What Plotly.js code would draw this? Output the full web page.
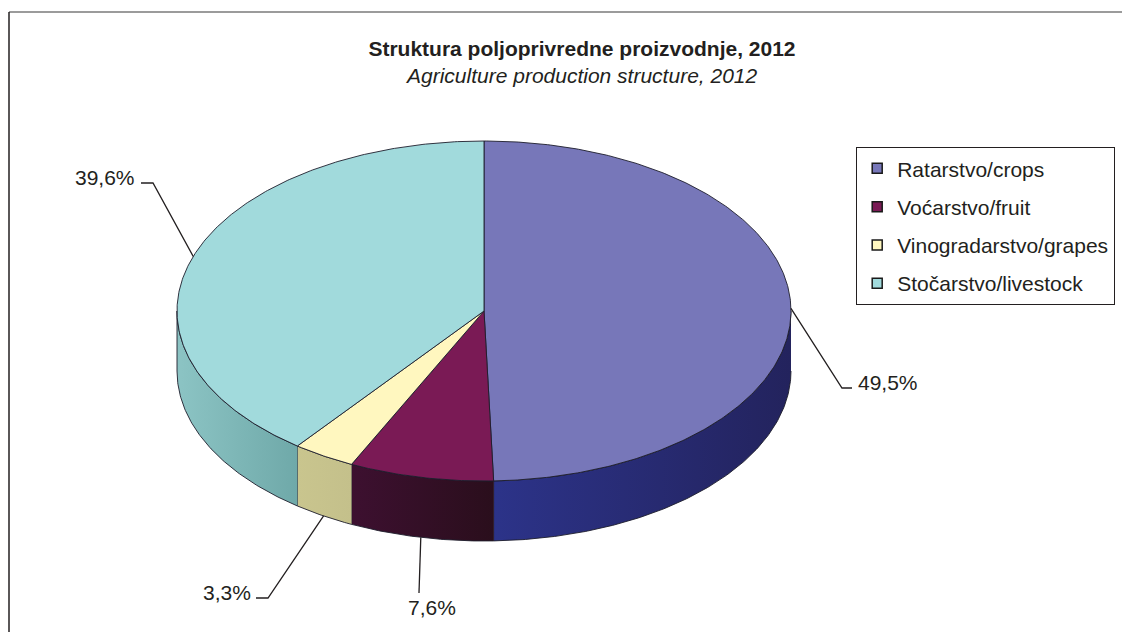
<!DOCTYPE html>
<html>
<head>
<meta charset="utf-8">
<script src="https://cdn.plot.ly/plotly-3.0.1.min.js"></script>
<style>html,body{margin:0;padding:0;background:#fff;}#chart{width:1122px;height:632px;}</style>
</head>
<body>
<div id="chart"></div>
<script>
// ---- Data ----
const categories = ['Ratarstvo/crops', 'Voćarstvo/fruit', 'Vinogradarstvo/grapes', 'Stočarstvo/livestock'];
const values = [49.5, 7.6, 3.3, 39.6];
const valueLabels = ['49,5%', '7,6%', '3,3%', '39,6%'];
const topColors = ['#7777b9', '#7a1a55', '#fff7bf', '#a1dadc'];
const sideColorsLeft = ['#2c3389', '#3d1030', '#c9c58e', '#8cc4c4'];
const sideColorsRight = ['#23235d', '#2a0e1c', '#c4c08b', '#6fa9a9'];

// ---- Geometry (pixel space) ----
const W = 1122, H = 632;
const CX = 484, CY = 311, RX = 307, RY = 170, DEPTH = 60;
const FONT = 'Liberation Sans, Arial, sans-serif';
const TXT = '#231f20';
const FS = 21;

// label placement: [elbowX, elbowY, endX, endY, textX, textY, anchor]
const labelPlace = [
  [842, 388, 852, 388, 856, 382, 'left'],
  [null, null, 419, 593, 432, 607, 'center'],
  [268, 598, 256, 598, 253, 592, 'right'],
  [153, 183, 141, 183, 137, 177, 'right']
];

function pt(deg, dz) {
  const t = deg * Math.PI / 180;
  return [CX + RX * Math.sin(t), CY - RY * Math.cos(t) + (dz || 0)];
}
function arc(a, b, dz) {
  const xs = [], ys = [];
  const n = Math.max(2, Math.ceil(Math.abs(b - a) / 0.5));
  for (let i = 0; i <= n; i++) {
    const p = pt(a + (b - a) * i / n, dz);
    xs.push(p[0]); ys.push(p[1]);
  }
  return [xs, ys];
}

const total = values.reduce((s, v) => s + v, 0);
const starts = [], ends = [];
let acc = 0;
values.forEach(v => { starts.push(acc / total * 360); acc += v; ends.push(acc / total * 360); });

const traces = [];
// side walls (front half only)
values.forEach((v, i) => {
  const s = Math.max(starts[i], 90), e = Math.min(ends[i], 270);
  if (s >= e) return;
  const top = arc(s, e, 0), bot = arc(e, s, DEPTH);
  traces.push({
    type: 'scatter', mode: 'lines', x: top[0].concat(bot[0]), y: top[1].concat(bot[1]),
    fill: 'toself',
    fillgradient: { type: 'horizontal', colorscale: [[0, sideColorsLeft[i]], [1, sideColorsRight[i]]] },
    line: { color: '#1d1d2b', width: 0.9 }, hoverinfo: 'skip', showlegend: false
  });
});
// top sectors
values.forEach((v, i) => {
  const a = arc(starts[i], ends[i], 0);
  traces.push({
    type: 'scatter', mode: 'lines',
    x: [CX].concat(a[0], [CX]), y: [CY].concat(a[1], [CY]),
    fill: 'toself', fillcolor: topColors[i],
    line: { color: '#1d1d2b', width: 0.9 }, hoverinfo: 'skip', showlegend: false
  });
});
// leader lines
const annotations = [];
values.forEach((v, i) => {
  const mid = (starts[i] + ends[i]) / 2;
  const front = mid > 90 && mid < 270;
  const p = pt(mid, front ? DEPTH : 0);
  const L = labelPlace[i];
  const xs = [p[0]], ys = [p[1]];
  if (L[0] !== null) { xs.push(L[0]); ys.push(L[1]); }
  xs.push(L[2]); ys.push(L[3]);
  traces.push({
    type: 'scatter', mode: 'lines', x: xs, y: ys,
    line: { color: TXT, width: 1.3 }, hoverinfo: 'skip', showlegend: false
  });
  annotations.push({
    x: L[4], y: L[5], xref: 'x', yref: 'y', text: valueLabels[i], showarrow: false,
    xanchor: L[6], yanchor: 'middle', font: { family: FONT, size: FS, color: TXT }
  });
});
// legend entries
categories.forEach((c, i) => {
  traces.push({
    type: 'scatter', mode: 'markers', x: [null], y: [null], name: c, legendgroup: 'g' + i,
    marker: { symbol: 'square', size: 10, color: topColors[i], line: { color: '#1a1a1a', width: 1.5 } },
    hoverinfo: 'skip'
  });
});

annotations.push({
  x: 581 / W, y: 1 - 76 / H, xref: 'paper', yref: 'paper', showarrow: false,
  text: '<i>Agriculture production structure, 2012</i>', xanchor: 'center', yanchor: 'middle',
  font: { family: FONT, size: FS, color: TXT }
});

const layout = {
  width: W, height: H, margin: { l: 0, r: 0, t: 0, b: 0 },
  paper_bgcolor: '#ffffff', plot_bgcolor: '#ffffff',
  title: {
    text: '<b>Struktura poljoprivredne proizvodnje, 2012</b>',
    x: 582 / W, xanchor: 'center', xref: 'paper', y: 1 - 49 / H, yanchor: 'middle', yref: 'container',
    font: { family: FONT, size: FS, color: TXT }
  },
  xaxis: { range: [0, W], visible: false, fixedrange: true },
  yaxis: { range: [H, 0], visible: false, fixedrange: true },
  showlegend: true,
  legend: {
    x: 856 / W, y: 1 - 147 / H, xanchor: 'left', yanchor: 'top',
    bordercolor: '#231f20', borderwidth: 1.2, bgcolor: '#ffffff',
    font: { family: FONT, size: FS, color: TXT }, tracegroupgap: 8,
    itemclick: false, itemdoubleclick: false
  },
  annotations: annotations,
  shapes: [
    { type: 'line', xref: 'paper', yref: 'paper', x0: 9 / W, x1: 1, y0: 1 - 12 / H, y1: 1 - 12 / H, line: { color: '#7a7a7a', width: 1.5 } },
    { type: 'line', xref: 'paper', yref: 'paper', x0: 9 / W, x1: 9 / W, y0: 0, y1: 1 - 12 / H, line: { color: '#231f20', width: 1.5 } }
  ]
};

Plotly.newPlot('chart', traces, layout, { displayModeBar: false, staticPlot: true });
</script>
</body>
</html>
